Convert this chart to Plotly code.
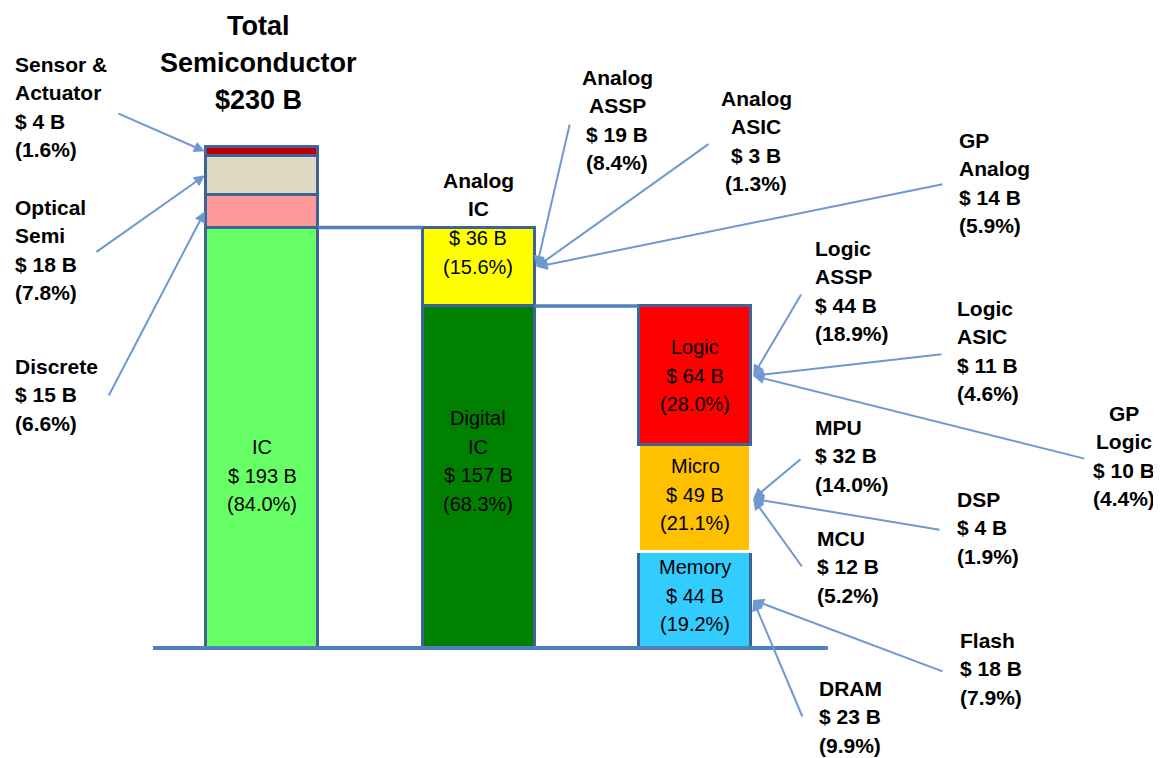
import plotly.graph_objects as go

# Semiconductor market breakdown, USD billions and share of total
total_value = 230
total_names = ["IC", "Discrete", "Optical\nSemi", "Sensor &\nActuator"]
total_values = [193, 15, 18, 4]
total_shares = [84.0, 6.6, 7.8, 1.6]

ic_names = ["Digital\nIC", "Analog\nIC"]
ic_values = [157, 36]
ic_shares = [68.3, 15.6]

digital_names = ["Memory", "Micro", "Logic"]
digital_values = [44, 49, 64]
digital_shares = [19.2, 21.1, 28.0]

analog_names = ["Analog\nASSP", "Analog\nASIC", "GP\nAnalog"]
analog_values = [19, 3, 14]
analog_shares = [8.4, 1.3, 5.9]

logic_names = ["Logic\nASSP", "Logic\nASIC", "GP\nLogic"]
logic_values = [44, 11, 10]
logic_shares = [18.9, 4.6, 4.4]

micro_names = ["MPU", "DSP", "MCU"]
micro_values = [32, 4, 12]
micro_shares = [14.0, 1.9, 5.2]

memory_names = ["Flash", "DRAM"]
memory_values = [18, 23]
memory_shares = [7.9, 9.9]

total_colors = ["#66FF66", "#FF9999", "#DDD9C3", "#C00000"]
ic_colors = ["#008000", "#FFFF00"]
digital_colors = ["#33CCFF", "#FFC000", "#FF0000"]

# page is 1161x758 but the browser body has an 8px margin
PAGE_W, PAGE_H = 1161, 758
OFFSET = 8
W, H = PAGE_W - OFFSET, PAGE_H - OFFSET
COL_PX = 262
COL_STEP = 216.5
BASE_PX = 648
PX_PER_B = 501 / 230
BAR_W = 112 / COL_STEP
HALF = BAR_W / 2
LINE_STEP = 28.5
FONT = "Liberation Sans, Arial, sans-serif"
OUTLINE = "#3E6399"
CONNECT = "#4F81BD"
ARROW = "#6E98D2"


def xd(px):
    return (px - COL_PX) / COL_STEP


def yd(py):
    return (BASE_PX - py) / PX_PER_B


def money(v):
    return f"$ {v} B"


def pct(s):
    return f"({s:.1f}%)"


fig = go.Figure()

columns = [
    (total_names, total_values, total_colors),
    (ic_names, ic_values, ic_colors),
    (digital_names, digital_values, digital_colors),
]
mids = {}
for col, (names, values, colors) in enumerate(columns):
    base = 0
    for name, v, c in zip(names, values, colors):
        line_color = "white" if name == "Micro" else OUTLINE
        fig.add_trace(
            go.Bar(
                x=[col],
                y=[v],
                width=BAR_W,
                marker=dict(color=c, line=dict(color=line_color, width=3)),
                hoverinfo="skip",
                showlegend=False,
            )
        )
        mids[name] = (col, base + v / 2)
        base += v

annotations = []


def add_lines(lines, x_px, y_px, align="left", size=21, bold=True, step=LINE_STEP):
    for i, t in enumerate(lines):
        annotations.append(
            dict(
                x=xd(x_px),
                y=yd(y_px + i * step),
                xref="x",
                yref="y",
                text=f"<b>{t}</b>" if bold else t,
                showarrow=False,
                xanchor=align,
                yanchor="middle",
                font=dict(family=FONT, size=size, color="black"),
            )
        )


# title above the first column
add_lines(["Total", "Semiconductor", f"${total_value} B"], 258, 26, "center", 27, True, 37)

# text inside the columns
add_lines(["IC", money(total_values[0]), pct(total_shares[0])], 262, 447, "center", 20, False)
add_lines(ic_names[0].split("\n") + [money(ic_values[0]), pct(ic_shares[0])], 478, 418, "center", 20, False)
add_lines(ic_names[1].split("\n"), 478, 180, "center", 21, True)
add_lines([money(ic_values[1]), pct(ic_shares[1])], 478, 238, "center", 20, False)
for name, v, s, y0 in zip(digital_names, digital_values, digital_shares, [567, 466, 347]):
    add_lines([name, money(v), pct(s)], 695, y0, "center", 20, False)

# callouts: (text x, first line y, align, arrow tail px), target segment
callouts = []
callouts += list(zip(total_names[1:], total_values[1:], total_shares[1:],
                     [(13, 366, "left", (108, 397)), (13, 207, "left", (95, 253)),
                      (13, 64, "left", (117, 113))],
                     ["Discrete", "Optical\nSemi", "Sensor &\nActuator"]))
callouts += list(zip(analog_names, analog_values, analog_shares,
                     [(617, 77, "center", (570, 123)), (756, 98, "center", (710, 143)),
                      (957, 140, "left", (944, 184))],
                     ["Analog\nIC"] * 3))
callouts += list(zip(logic_names, logic_values, logic_shares,
                     [(813, 248, "left", (802, 293)), (955, 308, "left", (943, 354)),
                      (1124, 413, "center", (1086, 459))],
                     ["Logic"] * 3))
callouts += list(zip(micro_names, micro_values, micro_shares,
                     [(813, 427, "left", (802, 458)), (955, 499, "left", (941, 530)),
                      (815, 538, "left", (803, 568))],
                     ["Micro"] * 3))
callouts += list(zip(memory_names, memory_values, memory_shares,
                     [(958, 640, "left", (944, 672)), (817, 688, "left", (803, 718))],
                     ["Memory"] * 2))

for name, v, s, (tx, ty, align, tail), target in callouts:
    add_lines(name.split("\n") + [money(v), pct(s)], tx, ty, align, 21, True)
    col, ymid = mids[target]
    hx = col - HALF - 0.005 if col == 0 else col + HALF + 0.01
    annotations.append(
        dict(
            x=hx, y=ymid, xref="x", yref="y",
            ax=xd(tail[0]), ay=yd(tail[1]), axref="x", ayref="y",
            text="", showarrow=True, arrowhead=2, arrowsize=1.1,
            arrowwidth=2, arrowcolor=ARROW, standoff=0,
        )
    )

shapes = [
    dict(type="line", xref="x", yref="y", x0=HALF, x1=1 - HALF,
         y0=total_values[0], y1=total_values[0], line=dict(color=CONNECT, width=3.5)),
    dict(type="line", xref="x", yref="y", x0=1 + HALF, x1=2 - HALF,
         y0=ic_values[0], y1=ic_values[0], line=dict(color=CONNECT, width=3.5)),
    dict(type="line", xref="x", yref="y", x0=xd(153), x1=xd(828),
         y0=0, y1=0, line=dict(color=CONNECT, width=4)),
]

fig.update_layout(
    barmode="stack",
    bargap=0,
    width=W,
    height=H,
    margin=dict(l=0, r=0, t=0, b=0, pad=0),
    paper_bgcolor="white",
    plot_bgcolor="white",
    annotations=annotations,
    shapes=shapes,
    showlegend=False,
)
fig.update_xaxes(range=[xd(OFFSET), xd(PAGE_W)], visible=False, fixedrange=True)
fig.update_yaxes(range=[yd(PAGE_H), yd(OFFSET)], visible=False, fixedrange=True)

fig.write_html("out.html")
